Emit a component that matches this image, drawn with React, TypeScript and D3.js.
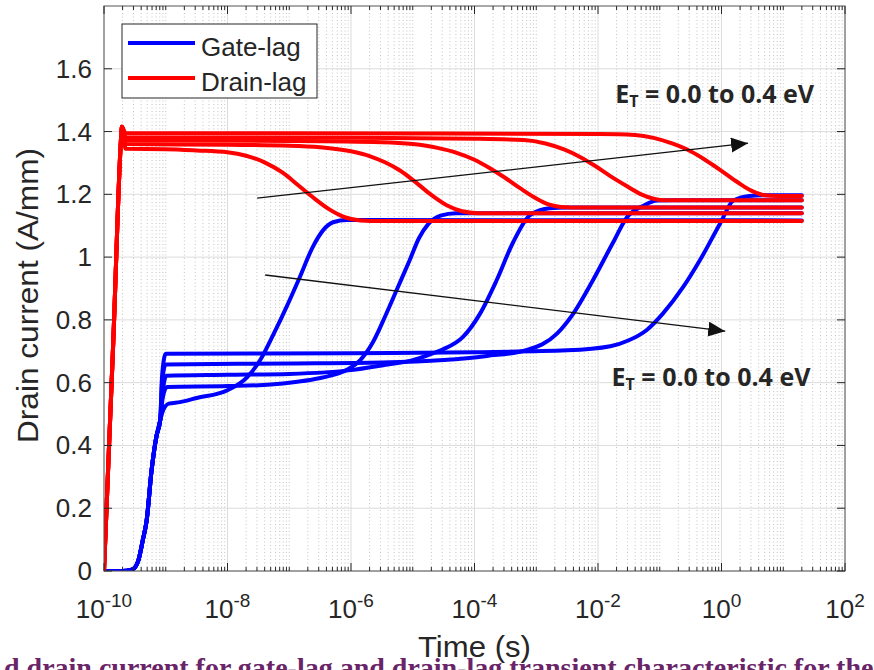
import React from 'react'
import * as d3 from 'd3'

// every point: [log10 of time (s), drain current (A/mm)]
// gate-lag transients, E_T = 0.0, 0.1, 0.2, 0.3, 0.4 eV
const gateLag00 = [[-10, 0], [-9.7, 0], [-9.55, 0.004], [-9.45, 0.03], [-9.37, 0.1], [-9.31, 0.16], [-9.23, 0.32], [-9.15, 0.43], [-9.09, 0.48], [-9.04, 0.513], [-8.95, 0.533], [-8.77, 0.538], [-8.5, 0.551], [-8.0, 0.576], [-7.68, 0.618], [-7.47, 0.672], [-7.26, 0.752], [-7.04, 0.843], [-6.83, 0.936], [-6.62, 1.032], [-6.45, 1.086], [-6.29, 1.111], [-6.07, 1.118], [-5.8, 1.118], [1.3, 1.117]]
const gateLag01 = [[-10, 0], [-9.7, 0], [-9.55, 0.004], [-9.45, 0.03], [-9.37, 0.1], [-9.31, 0.16], [-9.23, 0.32], [-9.15, 0.43], [-9.09, 0.48], [-9.05, 0.55], [-8.98, 0.586], [-8.0, 0.589], [-7.3, 0.594], [-6.9, 0.602], [-6.6, 0.611], [-6.3, 0.624], [-6.05, 0.643], [-5.85, 0.672], [-5.65, 0.727], [-5.45, 0.81], [-5.25, 0.9], [-5.05, 0.99], [-4.9, 1.06], [-4.75, 1.105], [-4.55, 1.132], [-4.3, 1.14], [1.3, 1.14]]
const gateLag02 = [[-10, 0], [-9.7, 0], [-9.55, 0.004], [-9.45, 0.03], [-9.37, 0.1], [-9.31, 0.16], [-9.23, 0.32], [-9.15, 0.43], [-9.09, 0.48], [-9.05, 0.57], [-8.99, 0.622], [-8.0, 0.625], [-7.0, 0.628], [-6.0, 0.64], [-5.5, 0.655], [-5.0, 0.672], [-4.75, 0.688], [-4.51, 0.706], [-4.19, 0.745], [-3.91, 0.82], [-3.64, 0.927], [-3.38, 1.045], [-3.1, 1.134], [-2.78, 1.156], [-2.5, 1.158], [1.3, 1.158]]
const gateLag03 = [[-10, 0], [-9.7, 0], [-9.55, 0.004], [-9.45, 0.03], [-9.37, 0.1], [-9.31, 0.16], [-9.23, 0.32], [-9.15, 0.43], [-9.09, 0.48], [-9.06, 0.6], [-9.0, 0.658], [-7.0, 0.661], [-5.5, 0.664], [-4.5, 0.672], [-3.8, 0.685], [-3.15, 0.704], [-2.66, 0.757], [-2.4, 0.82], [-2.08, 0.927], [-1.76, 1.045], [-1.53, 1.127], [-1.25, 1.165], [-1.04, 1.18], [-0.8, 1.181], [1.3, 1.181]]
const gateLag04 = [[-10, 0], [-9.7, 0], [-9.55, 0.004], [-9.45, 0.03], [-9.37, 0.1], [-9.31, 0.16], [-9.23, 0.32], [-9.15, 0.43], [-9.09, 0.48], [-9.06, 0.62], [-9.0, 0.692], [-6.0, 0.694], [-4.0, 0.697], [-2.5, 0.703], [-1.8, 0.716], [-1.5, 0.735], [-1.21, 0.768], [-0.95, 0.82], [-0.62, 0.905], [-0.35, 0.99], [-0.02, 1.108], [0.19, 1.18], [0.45, 1.195], [0.67, 1.197], [1.3, 1.197]]

// drain-lag transients, E_T = 0.0 .. 0.4 eV
const drainLag00 = [[-10, 0], [-9.85, 0.73], [-9.72, 1.39], [-9.71, 1.415], [-9.65, 1.345], [-9.0, 1.344], [-8.5, 1.34], [-8.0, 1.334], [-7.7, 1.323], [-7.4, 1.302], [-7.1, 1.268], [-6.85, 1.228], [-6.6, 1.188], [-6.35, 1.152], [-6.1, 1.127], [-5.85, 1.117], [-5.5, 1.115], [1.3, 1.115]]
const drainLag01 = [[-10, 0], [-9.85, 0.73], [-9.72, 1.39], [-9.71, 1.415], [-9.65, 1.36], [-8.0, 1.358], [-7.0, 1.355], [-6.5, 1.35], [-6.0, 1.337], [-5.7, 1.322], [-5.45, 1.302], [-5.2, 1.275], [-4.95, 1.238], [-4.7, 1.198], [-4.45, 1.165], [-4.2, 1.146], [-3.95, 1.14], [1.3, 1.14]]
const drainLag02 = [[-10, 0], [-9.85, 0.73], [-9.72, 1.39], [-9.71, 1.415], [-9.65, 1.372], [-7.0, 1.37], [-5.5, 1.366], [-5.0, 1.36], [-4.6, 1.348], [-4.3, 1.333], [-4.0, 1.31], [-3.75, 1.283], [-3.5, 1.252], [-3.25, 1.218], [-3.0, 1.187], [-2.8, 1.168], [-2.6, 1.16], [-2.3, 1.158], [1.3, 1.158]]
const drainLag03 = [[-10, 0], [-9.85, 0.73], [-9.72, 1.39], [-9.71, 1.415], [-9.65, 1.382], [-6.0, 1.38], [-4.0, 1.377], [-3.2, 1.373], [-2.85, 1.362], [-2.55, 1.343], [-2.3, 1.32], [-2.05, 1.291], [-1.8, 1.258], [-1.55, 1.228], [-1.3, 1.2], [-1.1, 1.186], [-0.9, 1.181], [1.3, 1.181]]
const drainLag04 = [[-10, 0], [-9.85, 0.73], [-9.72, 1.39], [-9.71, 1.415], [-9.65, 1.395], [-5.0, 1.394], [-2.0, 1.392], [-1.4, 1.389], [-1.1, 1.38], [-0.8, 1.362], [-0.5, 1.337], [-0.25, 1.308], [0.0, 1.275], [0.25, 1.24], [0.5, 1.21], [0.7, 1.197], [0.9, 1.195], [1.3, 1.195]]

const gateLagCurves = [gateLag00, gateLag01, gateLag02, gateLag03, gateLag04]
const drainLagCurves = [drainLag00, drainLag01, drainLag02, drainLag03, drainLag04]

const xTickExps = [-10, -8, -6, -4, -2, 0, 2]
const yTicks = [0, 0.2, 0.4, 0.6, 0.8, 1, 1.2, 1.4, 1.6]
const yTickLabels = ['0', '0.2', '0.4', '0.6', '0.8', '1', '1.2', '1.4', '1.6']
const legendLabels = ['Gate-lag', 'Drain-lag']
const legendColors = ['#0000ff', '#ff0000']

// arrows, in data units: [log10 t, I]
const upperArrow = [[-7.52, 1.188], [0.43, 1.363]]
const lowerArrow = [[-7.39, 0.943], [0.06, 0.764]]
const upperLabelAt = [-1.72, 1.49]
const lowerLabelAt = [-1.78, 0.589]

const captionText = 'd drain current for gate-lag and drain-lag transient characteristic for the'

const W = 874
const H = 670
const box = { left: 104, right: 845, top: 6, bottom: 571 }
const axisColor = '#262626'
const sans = '"Liberation Sans", Arial, sans-serif'

function EtLabel({ x, y }: { x: number; y: number }) {
  return (
    <text x={x} y={y} fontFamily="'Open Sans', Lato, sans-serif" fontWeight={700} fontSize={25} fill="#262626">
      E<tspan fontSize={16} dy={4}>T</tspan><tspan dy={-4}>{' = 0.0 to 0.4 eV'}</tspan>
    </text>
  )
}

export default function App() {
  const x = d3.scaleLog().domain([1e-10, 1e2]).range([box.left, box.right])
  const y = d3.scaleLinear().domain([0, 1.8]).range([box.bottom, box.top])
  const line = d3.line<number[]>()
    .x(d => x(10 ** d[0]))
    .y(d => y(d[1]))
    .curve(d3.curveMonotoneX)

  // minor log positions: 2..9 of every decade plus the odd decades
  const minor: number[] = []
  for (let e = -10; e < 2; e++) {
    for (let k = 1; k <= 9; k++) {
      if (k === 1 && e % 2 === 0) continue
      minor.push(k * 10 ** e)
    }
  }

  const ax = (p: number[]) => x(10 ** p[0])
  const ay = (p: number[]) => y(p[1])

  return (
    <svg width={W} height={H} style={{ position: 'absolute', left: 0, top: 0, background: '#fff' }}>
      <defs>
        <marker id="head" markerUnits="userSpaceOnUse" markerWidth={18} markerHeight={16} refX={17} refY={7.5} orient="auto">
          <path d="M0,0 L17,7.5 L0,15 z" fill="#111" />
        </marker>
        <clipPath id="plot">
          <rect x={box.left} y={box.top} width={box.right - box.left} height={box.bottom - box.top} />
        </clipPath>
      </defs>

      {/* grid */}
      <g>
        {minor.map((v, i) => (
          <line key={'mg' + i} x1={x(v)} x2={x(v)} y1={box.top} y2={box.bottom}
            stroke="#c4c4c4" strokeWidth={1} strokeDasharray="1,2.5" />
        ))}
        {xTickExps.map(e => (
          <line key={'xg' + e} x1={x(10 ** e)} x2={x(10 ** e)} y1={box.top} y2={box.bottom} stroke="#dcdcdc" strokeWidth={1} />
        ))}
        {yTicks.map(v => (
          <line key={'yg' + v} x1={box.left} x2={box.right} y1={y(v)} y2={y(v)} stroke="#dcdcdc" strokeWidth={1} />
        ))}
      </g>

      {/* curves */}
      <g clipPath="url(#plot)" fill="none" strokeWidth={4} strokeLinejoin="round" strokeLinecap="round">
        {gateLagCurves.map((c, i) => <path key={'g' + i} d={line(c) || ''} stroke="#0000ff" />)}
        {drainLagCurves.map((c, i) => <path key={'d' + i} d={line(c) || ''} stroke="#ff0000" />)}
      </g>

      {/* axes box and ticks */}
      <g stroke={axisColor} strokeWidth={1}>
        <rect x={box.left} y={box.top} width={box.right - box.left} height={box.bottom - box.top} fill="none" stroke="#555" />
        {minor.map((v, i) => (
          <g key={'mt' + i}>
            <line x1={x(v)} x2={x(v)} y1={box.bottom} y2={box.bottom - 4} />
            <line x1={x(v)} x2={x(v)} y1={box.top} y2={box.top + 4} />
          </g>
        ))}
        {xTickExps.map(e => (
          <g key={'xt' + e}>
            <line x1={x(10 ** e)} x2={x(10 ** e)} y1={box.bottom} y2={box.bottom - 8} />
            <line x1={x(10 ** e)} x2={x(10 ** e)} y1={box.top} y2={box.top + 8} />
          </g>
        ))}
        {yTicks.map(v => (
          <g key={'yt' + v}>
            <line x1={box.left} x2={box.left + 8} y1={y(v)} y2={y(v)} />
            <line x1={box.right} x2={box.right - 8} y1={y(v)} y2={y(v)} />
          </g>
        ))}
      </g>

      {/* tick labels */}
      <g fontFamily={sans} fill={axisColor}>
        {xTickExps.map(e => (
          <text key={'xl' + e} x={x(10 ** e)} y={618} fontSize={26} textAnchor="middle">
            10<tspan fontSize={19} dy={-11}>{String(e)}</tspan>
          </text>
        ))}
        {yTicks.map((v, i) => (
          <text key={'yl' + v} x={92} y={y(v) + 9} fontSize={26} textAnchor="end">{yTickLabels[i]}</text>
        ))}
        <text x={(box.left + box.right) / 2} y={657} fontSize={29} textAnchor="middle" textLength={113} lengthAdjust="spacingAndGlyphs">Time (s)</text>
        <text transform={`translate(38,${(box.top + box.bottom) / 2 + 7}) rotate(-90)`} fontSize={29} textAnchor="middle"
          textLength={295} lengthAdjust="spacingAndGlyphs">
          Drain current (A/mm)
        </text>
      </g>

      {/* annotations */}
      <g stroke="#111" strokeWidth={1.3}>
        <line x1={ax(upperArrow[0])} y1={ay(upperArrow[0])} x2={ax(upperArrow[1])} y2={ay(upperArrow[1])} markerEnd="url(#head)" />
        <line x1={ax(lowerArrow[0])} y1={ay(lowerArrow[0])} x2={ax(lowerArrow[1])} y2={ay(lowerArrow[1])} markerEnd="url(#head)" />
      </g>
      <EtLabel x={ax(upperLabelAt)} y={ay(upperLabelAt)} />
      <EtLabel x={ax(lowerLabelAt)} y={ay(lowerLabelAt)} />

      {/* legend */}
      <g>
        <rect x={122} y={24} width={195} height={74} fill="#fff" stroke={axisColor} strokeWidth={1} />
        {legendLabels.map((l, i) => (
          <g key={l}>
            <line x1={128} x2={195} y1={43 + i * 35} y2={43 + i * 35} stroke={legendColors[i]} strokeWidth={4} />
            <text x={201} y={56 + i * 35} fontFamily={sans} fontSize={26} fill={axisColor}>{l}</text>
          </g>
        ))}
      </g>

      {/* caption fragment cut at the bottom edge */}
      <text x={4} y={677} fontFamily='"Liberation Serif", "Times New Roman", serif' fontWeight={700} fontSize={28} fill="#6a2468">
        {captionText}
      </text>
    </svg>
  )
}
